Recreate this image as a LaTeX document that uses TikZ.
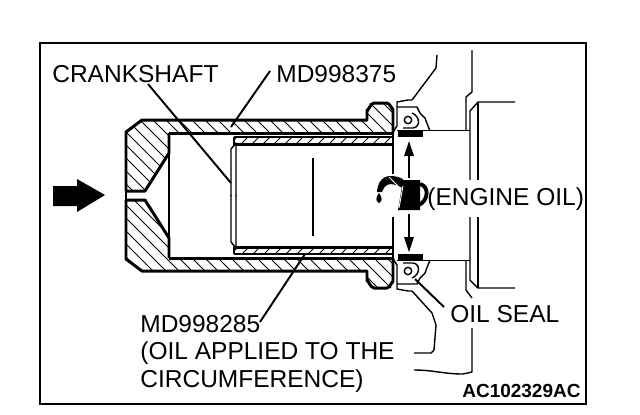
\documentclass[tikz,border=0pt]{standalone}
\usepackage{fontspec}
\setmainfont{Liberation Sans}
\tikzset{
 px/.style={x=0.02cm,y=-0.02cm},
 thickln/.style={line width=1.7pt,line join=round},
 thinln/.style={line width=0.8pt,line join=round},
 hatchln/.style={line width=0.55pt},
 lead/.style={line width=1.1pt},
 lbl/.style={anchor=base west,inner sep=0pt,font=\fontsize{13.95}{16}\selectfont},
 code/.style={anchor=base west,inner sep=0pt,font=\fontsize{10.8}{13}\selectfont\bfseries},
 oilarrow/.style={line width=0.9pt}
}
\newcommand{\halfpart}[1]{%
 % tool body hatch
 \begin{scope}
  \clip (126,191) -- (126,132) -- (142,120) -- (367,120) -- (367,103) -- (393,103) -- (393,133) -- (169,133) -- (169,153) -- (145,191) -- cycle;
  \foreach \c in {-120,-107,...,420} {\draw[hatchln] (\c,120) ++(-100,{-100*#1}) -- ++(300,{300*#1});}
 \end{scope}
 % sleeve hatch
 \begin{scope}
  \clip (234,137) rectangle (393,144);
  \foreach \c in {234,245,...,400} {\draw[hatchln] (\c,140) ++(-20,{20*#1}) -- ++(40,{-40*#1});}
 \end{scope}
 % tool outline
 \draw[thickln] (126,191) -- (126,132) -- (142,120) -- (367,120) -- (367,110) to[out=-90,in=180] (374,103) -- (387,103) to[out=0,in=-90] (393,109) -- (393,133);
 \draw[thickln] (169,133) -- (393,133);
 \draw[thickln] (169,133) -- (169,153) -- (145,191) -- (126,191);
 \draw[thinln] (234,137) -- (393,137);
 \draw[thickln] (234,137) -- (234,144) -- (393,144);
 \draw[thinln] (231,196) -- (231,149) -- (236,143) -- (236,196);
 \draw[thinln] (169,153) -- (169,196);
 \draw[thinln] (393,133) -- (393,174);
 \draw[thinln] (126,191) -- (126,196);
 % seal
 \draw[thinln] (393,132) -- (397,126) -- (397,107) -- (417,107) -- (420,113) -- (425,118) -- (428,126) -- (430,131);
 \draw[thinln] (397,130.5) -- (470,130.5);
 \draw[thinln] (408,120) circle[radius=3.7];
 \draw[thinln] (412,113) .. controls (420,116) and (421,127) .. (413,128) -- (403,128);
 \fill (398,131) rectangle (423,137);
 % housing tip
 \draw[thinln] (397,107) -- (397,102) -- (408,100) -- (412,100);
}
\begin{document}
\begin{tikzpicture}[px]
\useasboundingbox (0,0) rectangle (640,414);
\fill[white] (0,0) rectangle (640,414);
\draw[line width=1.3pt] (40,43) rectangle (586,404);
\begin{scope}\halfpart{1}\end{scope}
\begin{scope}[shift={(0,391)},yscale=-1]\halfpart{-1}\end{scope}
\draw[thinln] (313,158) -- (313,236);
% housing upper
\draw[thinln] (412,100) -- (436,68) -- (437,55);
\draw[thinln] (472,50) -- (472,92) -- (466,97) -- (466,131);
\draw[thinln] (515,102) -- (478,102) -- (470,111) -- (470,280) -- (478,288) -- (515,288);
\draw[thinln] (478,102) -- (478,288);
% housing lower
\draw[thinln] (412,291) -- (432,313) -- (436,325) -- (434,350) -- (431,353) -- (414,353);
\draw[thinln] (466,260) -- (466,290) -- (472,298);
\draw[thinln] (472,328) -- (472,372) -- (463,374) to[out=180,in=0] (414,370);
% oil arrows
\coordinate (aT) at (409,141); \coordinate (aTs) at (409,178);
\coordinate (aB) at (409,252); \coordinate (aBs) at (409,214);
\draw[oilarrow] (aTs) -- (409,155); \fill (aT) -- (414,156) -- (404,156) -- cycle;
\draw[oilarrow] (aBs) -- (409,237); \fill (aB) -- (414,237) -- (404,237) -- cycle;
% block arrow
\fill (53,186) -- (77,186) -- (77,179) -- (105,195) -- (77,212) -- (77,206) -- (53,206) -- cycle;
% labels
\node[lbl] (crank) at (52,82) {CRANKSHAFT};
\node[lbl] (md375) at (276,82) {MD998375};
\node[lbl,fill=white,inner ysep=4pt] (engine) at (427,205) {(ENGINE OIL)};
\node[lbl] (seal) at (450,322) {OIL SEAL};
\node[lbl] (md285) at (140,332) {MD998285};
\node[lbl] (oilapp) at (140,359) {(OIL APPLIED TO THE};
\node[lbl] (circ) at (140,387) {CIRCUMFERENCE)};
\node[code] (ac) at (462,397) {AC102329AC};
% oil can
\fill (400,180) -- (420,180) -- (420,210) -- (398,210) -- (402,186) -- cycle;
\draw[line width=2.2pt] (420,184) .. controls (429,186) and (429,200) .. (419,205);
\fill (377,192) .. controls (378,177) and (388,172) .. (403,179) -- (405,189) .. controls (393,183) and (386,181) .. (382,192) -- cycle;
\fill (379,193) .. controls (382,197) and (383,201) .. (379,203) .. controls (375,201) and (376,197) .. (379,193) -- cycle;
\draw[white,line width=0.5pt] (389,177) -- (398,186) (403,186) -- (399,208);
% leaders
\coordinate (cA) at (148,84); \coordinate (cB) at (231,183);
\coordinate (mA) at (270,71); \coordinate (mB) at (231,127);
\coordinate (nA) at (260,322); \coordinate (nB) at (305,254);
\coordinate (sA) at (444,307); \coordinate (sB) at (415,279);
\draw[lead] (cA) -- (cB);
\draw[lead] (mA) -- (mB);
\draw[lead] (nA) -- (nB);
\draw[lead] (sA) -- (sB);
\end{tikzpicture}
\end{document}
